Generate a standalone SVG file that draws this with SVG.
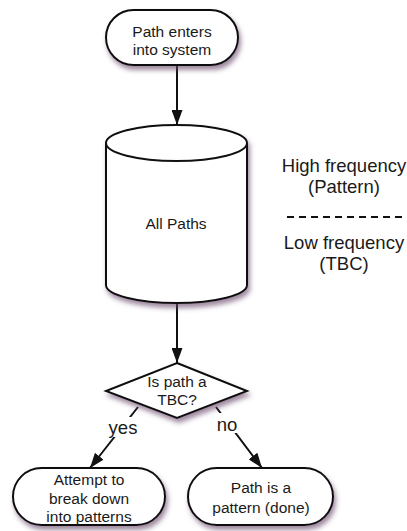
<svg xmlns="http://www.w3.org/2000/svg" width="407" height="531" viewBox="0 0 407 531">
  <defs>
    <filter id="shadow" x="-20%" y="-20%" width="150%" height="160%">
      <feDropShadow dx="2" dy="4" stdDeviation="2.5" flood-color="#6a4a6a" flood-opacity="0.65"/>
    </filter>
    <marker id="arrow" markerUnits="userSpaceOnUse" markerWidth="15" markerHeight="11" refX="15" refY="5.5" orient="auto">
      <path d="M0,0 L15,5.5 L0,11 z" fill="#111"/>
    </marker>
  </defs>
  <style>
    .shape { fill: #fff; stroke: #111; stroke-width: 2; }
    .edge { fill: none; stroke: #111; stroke-width: 2; }
    text { font-family: "Liberation Sans", Arial, sans-serif; fill: #1a1a1a; text-anchor: middle; }
    .lbl { font-size: 15.5px; }
    .big { font-size: 18.5px; }
  </style>
  <rect width="407" height="531" fill="#fff"/>

  <g id="connectors">
    <line class="edge" x1="177" y1="66" x2="177" y2="125" marker-end="url(#arrow)"/>
    <line class="edge" x1="177" y1="304" x2="177" y2="363" marker-end="url(#arrow)"/>
    <line class="edge" x1="138" y1="407" x2="90" y2="468" marker-end="url(#arrow)"/>
    <line class="edge" x1="216" y1="407" x2="262" y2="468" marker-end="url(#arrow)"/>
    <rect x="108" y="417" width="31" height="20" fill="#fff"/>
    <text class="big" x="123" y="434">yes</text>
    <rect x="215" y="413" width="24" height="20" fill="#fff"/>
    <text class="big" x="227" y="431">no</text>
  </g>

  <g id="start">
    <rect class="shape" x="106" y="10" width="132" height="55" rx="27.5" filter="url(#shadow)"/>
    <text class="lbl" x="172" y="37">Path enters</text>
    <text class="lbl" x="172" y="55">into system</text>
  </g>

  <g id="all-paths">
    <path class="shape" d="M106,143 L106,285 A70.5,18 0 0 0 247,285 L247,143 A70.5,18 0 0 0 106,143 Z" filter="url(#shadow)"/>
    <path class="edge" d="M106,143 A70.5,18 0 0 0 247,143"/>
    <text class="lbl" x="176" y="229">All Paths</text>
  </g>

  <g id="legend">
    <text class="big" x="344" y="172">High frequency</text>
    <text class="big" x="344" y="193">(Pattern)</text>
    <line x1="287" y1="217" x2="402" y2="217" stroke="#111" stroke-width="1.8" stroke-dasharray="7,5"/>
    <text class="big" x="344" y="249">Low frequency</text>
    <text class="big" x="344" y="270">(TBC)</text>
  </g>

  <g id="decision">
    <polygon class="shape" points="177,363 247,391 177,418 106,391" filter="url(#shadow)"/>
    <text class="lbl" x="177" y="387">Is path a</text>
    <text class="lbl" x="177" y="405">TBC?</text>
  </g>

  <g id="break-down">
    <rect class="shape" x="13" y="468" width="152" height="57" rx="28.5" filter="url(#shadow)"/>
    <text class="lbl" x="89" y="485">Attempt to</text>
    <text class="lbl" x="89" y="504">break down</text>
    <text class="lbl" x="89" y="522">into patterns</text>
  </g>

  <g id="done">
    <rect class="shape" x="188" y="468" width="145" height="57" rx="28.5" filter="url(#shadow)"/>
    <text class="lbl" x="261" y="493">Path is a</text>
    <text class="lbl" x="261" y="513">pattern (done)</text>
  </g>
</svg>
